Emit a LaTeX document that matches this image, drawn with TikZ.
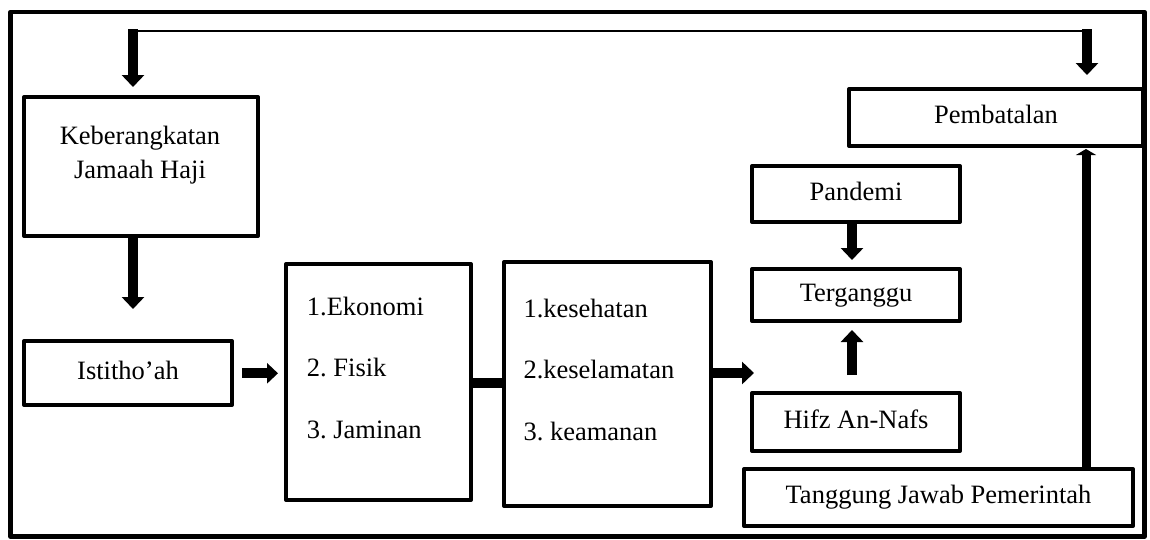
\documentclass[tikz,border=0pt]{standalone}
\usepackage{fontspec}
\setmainfont{Liberation Serif}
\usetikzlibrary{arrows.meta}
\frenchspacing
\begin{document}
\begin{tikzpicture}[x=1pt,y=-1pt,
  box/.style={draw, line width=4pt, line join=round, inner sep=0pt, font=\fontsize{26.5}{30}\selectfont, text height=18pt, text depth=6pt, align=center},
  txt/.style={inner sep=0pt, anchor=base west, font=\fontsize{26.5}{30}\selectfont},
  bigarrow/.style={line width=10pt, -{Triangle[width=22pt,length=12pt]}},
  thickline/.style={line width=10pt},
  thinline/.style={line width=1.5pt}
]
\useasboundingbox (0,0) rectangle (1150,539);
\draw[line width=4.5pt, line join=round] (10.5,12) rectangle (1144.5,536.5);

% boxes
\node[box, minimum width=234pt, minimum height=139pt] (keb) at (141,166.5) {};
\node[txt, anchor=base] (kebA) at (140,144) {Keberangkatan};
\node[txt, anchor=base] (kebB) at (140,178) {Jamaah Haji};
\node[box, minimum width=208pt, minimum height=64pt] (ist) at (128,373) {Istitho’ah};
\node[box, minimum width=185pt, minimum height=236pt] (eko) at (378.5,382) {};
\node[txt] (eko1) at (306.7,315) {1.Ekonomi};
\node[txt] (eko2) at (306.7,376.7) {2. Fisik};
\node[txt] (eko3) at (306.7,438.3) {3. Jaminan};
\node[box, minimum width=207pt, minimum height=244pt] (kes) at (607.5,384) {};
\node[txt] (kes1) at (523.3,317.7) {1.kesehatan};
\node[txt] (kes2) at (523.3,378) {2.keselamatan};
\node[txt] (kes3) at (523.3,440) {3. keamanan};
\node[box, minimum width=208pt, minimum height=56pt] (pan) at (856,194) {Pandemi};
\node[box, minimum width=208pt, minimum height=52pt] (ter) at (856,295) {Terganggu};
\node[box, minimum width=208pt, minimum height=58pt] (hif) at (856,422) {Hifz An-Nafs};
\node[box, minimum width=389pt, minimum height=57pt] (tan) at (938.5,497.5) {Tanggung Jawab Pemerintah};
\node[box, minimum width=294pt, minimum height=57pt] (pem) at (996,117.5) {Pembatalan};

% coordinates
\coordinate (topL) at (133,31);
\coordinate (topR) at (1087,31);
\coordinate (kebIn) at (133,87);
\coordinate (pemIn) at (1087,75);
\coordinate (istIn) at (133,309);
\coordinate (istOut) at (242,373.3);
\coordinate (ekoIn) at (278,373.3);
\coordinate (mid) at (488,383);
\coordinate (kesOut) at (754,373);
\coordinate (terIn) at (852,260);
\coordinate (hifOut) at (852,375);
\coordinate (terBot) at (852,330);
\coordinate (pemBot) at (1086,149);

% connectors
\draw[thinline] (topL) -- (topR);
\draw[bigarrow] ([yshift=2pt]topL) -- (kebIn);
\draw[bigarrow] ([yshift=2pt]topR) -- (pemIn);
\draw[bigarrow] (istIn |- keb.south) -- (istIn);
\draw[line width=10pt, -{Triangle[width=20pt,length=11pt]}] (istOut) -- (ekoIn);
\draw[thickline] (eko.east |- mid) -- (kes.west |- mid);
\draw[bigarrow] (kes.east |- kesOut) -- (kesOut);
\draw[bigarrow] (pan.south -| terIn) -- (terIn);
\draw[bigarrow] (hifOut) -- (terBot);
\draw[line width=9pt, -{Triangle[width=20pt,length=6pt]}] (tan.north -| pemBot) -- (pemBot);
\end{tikzpicture}
\end{document}
